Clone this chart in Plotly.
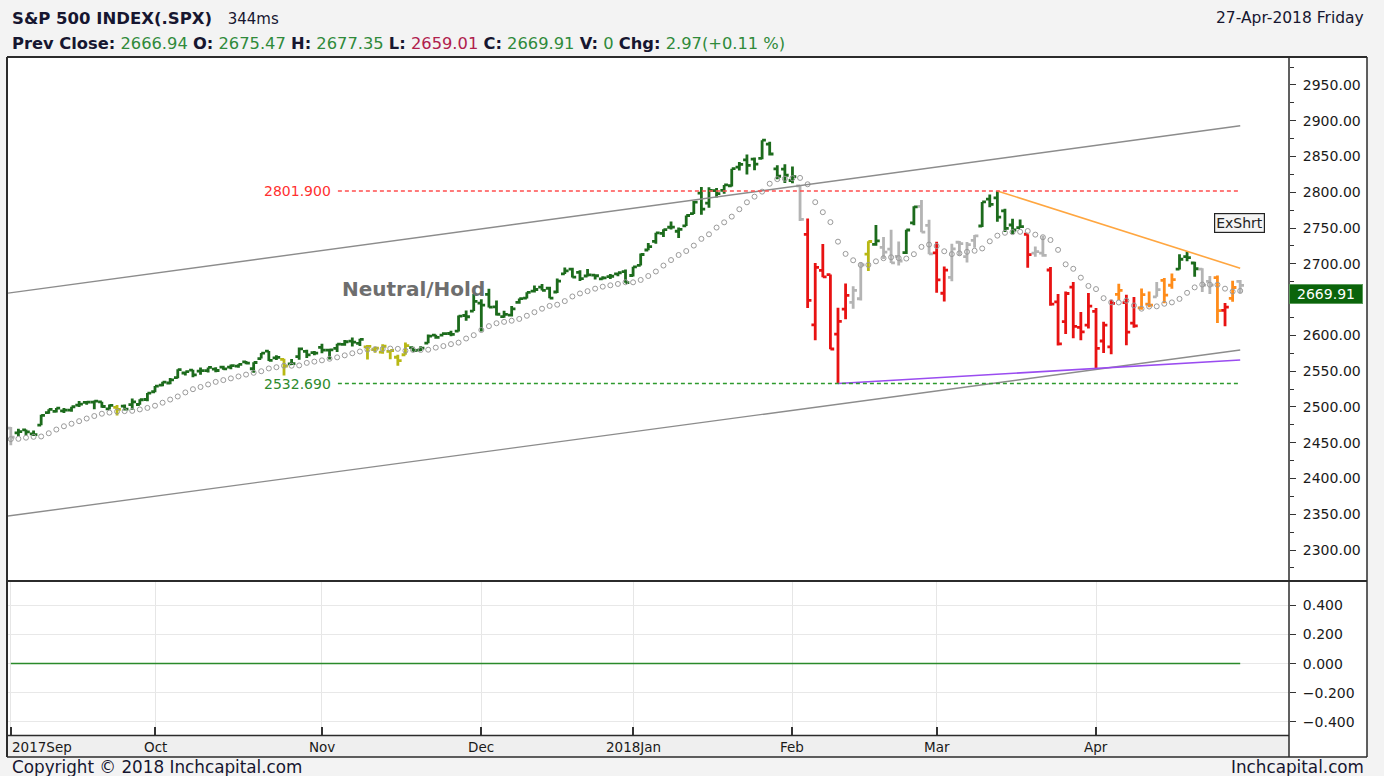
import plotly.graph_objects as go

W, H = 1384, 776

# ---------------- data ----------------
months = ["2017-09", "2017-10", "2017-11", "2017-12", "2018-01", "2018-02", "2018-03", "2018-04"]
month_days = [
    [5, 6, 7, 8, 11, 12, 13, 14, 15, 18, 19, 20, 21, 22, 25, 26, 27, 28, 29],
    [2, 3, 4, 5, 6, 9, 10, 11, 12, 13, 16, 17, 18, 19, 20, 23, 24, 25, 26, 27, 30, 31],
    [1, 2, 3, 6, 7, 8, 9, 10, 13, 14, 15, 16, 17, 20, 21, 22, 24, 27, 28, 29, 30],
    [1, 4, 5, 6, 7, 8, 11, 12, 13, 14, 15, 18, 19, 20, 21, 22, 26, 27, 28, 29],
    [2, 3, 4, 5, 8, 9, 10, 11, 12, 16, 17, 18, 19, 22, 23, 24, 25, 26, 29, 30, 31],
    [1, 2, 5, 6, 7, 8, 9, 12, 13, 14, 15, 16, 20, 21, 22, 23, 26, 27, 28],
    [1, 2, 5, 6, 7, 8, 9, 12, 13, 14, 15, 16, 19, 20, 21, 22, 23, 26, 27, 28, 29],
    [2, 3, 4, 5, 6, 9, 10, 11, 12, 13, 16, 17, 18, 19, 20, 23, 24, 25, 26, 27],
]
month_labels = ["2017Sep", "Oct", "Nov", "Dec", "2018Jan", "Feb", "Mar", "Apr"]

opens = [
    2470.35, 2463.83, 2468.06, 2462.25, 2474.52, 2491.94, 2493.89, 2494.56, 2495.67, 2502.51, 2506.29, 2506.84, 2507.16, 2497.26, 2499.39, 2501.04, 2503.30, 2503.41, 2510.42,
    2521.20, 2530.34, 2533.48, 2540.86, 2547.44, 2551.39, 2549.99, 2550.62, 2552.88, 2555.66, 2555.57, 2557.17, 2562.87, 2553.39, 2567.56, 2578.08, 2568.66, 2566.52, 2560.08, 2570.26, 2577.75, 2575.99,
    2583.21, 2579.46, 2581.93, 2587.47, 2592.11, 2588.71, 2584.00, 2580.18, 2576.53, 2577.75, 2569.45, 2572.95, 2582.94, 2579.49, 2589.17, 2600.31, 2600.42, 2602.66, 2605.94, 2627.82, 2633.93,
    2645.10, 2657.19, 2639.78, 2626.24, 2628.38, 2646.21, 2652.19, 2661.73, 2667.59, 2665.87, 2660.63, 2685.92, 2692.71, 2688.18, 2683.02, 2684.22, 2679.09, 2682.10, 2686.10, 2689.15,
    2683.73, 2697.85, 2719.31, 2731.33, 2742.67, 2751.15, 2745.55, 2752.97, 2770.18, 2798.96, 2784.99, 2802.40, 2802.60, 2809.16, 2835.05, 2845.42, 2846.24, 2847.48, 2867.23, 2832.74, 2832.41,
    2816.45, 2808.92, 2741.06, 2614.78, 2690.95, 2685.01, 2601.78, 2636.75, 2646.27, 2651.21, 2713.46, 2727.14, 2722.99, 2720.53, 2710.42, 2715.80, 2757.37, 2780.45, 2753.78,
    2715.22, 2658.89, 2681.06, 2730.18, 2710.18, 2732.75, 2752.91, 2790.54, 2792.31, 2774.06, 2754.27, 2750.57, 2741.38, 2715.05, 2714.99, 2691.36, 2646.71, 2619.35, 2667.57, 2611.30, 2614.41,
    2633.45, 2592.17, 2584.04, 2657.36, 2645.82, 2617.18, 2638.41, 2643.69, 2653.83, 2676.90, 2670.10, 2692.74, 2710.11, 2701.16, 2692.56, 2675.40, 2680.80, 2634.92, 2651.65, 2675.47,
]
highs = [
    2471.97, 2469.64, 2468.62, 2467.11, 2488.95, 2496.77, 2498.37, 2498.43, 2500.23, 2508.32, 2507.84, 2508.85, 2507.16, 2503.47, 2502.54, 2503.51, 2511.75, 2510.81, 2519.44,
    2529.23, 2535.13, 2540.53, 2552.51, 2549.41, 2551.82, 2555.23, 2555.24, 2555.33, 2557.65, 2559.47, 2559.71, 2564.11, 2562.36, 2575.44, 2578.29, 2572.18, 2567.40, 2567.07, 2582.98, 2580.03, 2578.29,
    2588.40, 2581.11, 2588.42, 2593.38, 2597.02, 2595.47, 2586.50, 2583.81, 2587.66, 2579.66, 2572.84, 2590.09, 2583.96, 2584.64, 2601.19, 2600.94, 2604.21, 2606.41, 2627.69, 2634.89, 2657.74,
    2650.62, 2665.19, 2648.72, 2634.41, 2640.99, 2651.65, 2660.33, 2669.72, 2671.88, 2668.09, 2679.63, 2694.97, 2694.44, 2691.01, 2692.64, 2685.35, 2682.74, 2685.64, 2687.66, 2692.12,
    2695.89, 2714.37, 2729.29, 2743.45, 2748.51, 2759.14, 2750.80, 2767.56, 2787.85, 2807.54, 2807.04, 2805.83, 2810.33, 2833.03, 2842.24, 2852.97, 2848.56, 2872.87, 2870.62, 2837.75, 2839.26,
    2835.96, 2808.92, 2763.39, 2701.04, 2727.67, 2685.27, 2638.67, 2672.61, 2668.84, 2702.10, 2731.51, 2754.42, 2737.60, 2747.75, 2731.26, 2747.76, 2780.64, 2789.15, 2761.52,
    2730.89, 2696.25, 2728.09, 2732.08, 2730.60, 2740.45, 2786.57, 2796.98, 2801.90, 2777.11, 2763.03, 2761.85, 2741.38, 2724.22, 2739.14, 2695.68, 2657.67, 2661.36, 2674.78, 2632.65, 2659.07,
    2638.30, 2619.14, 2649.86, 2672.08, 2656.88, 2653.55, 2665.45, 2661.43, 2674.72, 2680.26, 2686.49, 2713.34, 2717.49, 2702.84, 2693.94, 2682.86, 2683.55, 2645.30, 2676.48, 2677.35,
]
lows = [
    2446.55, 2459.20, 2460.29, 2459.40, 2474.52, 2490.37, 2492.14, 2491.35, 2493.16, 2499.92, 2503.19, 2496.67, 2499.00, 2496.54, 2488.03, 2495.12, 2495.91, 2502.93, 2507.99,
    2520.40, 2528.85, 2531.80, 2540.02, 2543.79, 2541.60, 2544.86, 2547.95, 2548.31, 2552.09, 2552.64, 2554.69, 2559.67, 2547.92, 2567.56, 2564.33, 2565.58, 2544.00, 2559.80, 2565.94, 2568.25, 2572.15,
    2574.92, 2566.17, 2576.77, 2585.66, 2584.35, 2585.02, 2566.33, 2575.57, 2574.48, 2566.56, 2557.45, 2572.95, 2577.62, 2578.24, 2589.17, 2595.23, 2600.42, 2598.87, 2605.44, 2620.32, 2633.93,
    2605.52, 2639.03, 2627.73, 2624.75, 2626.53, 2644.10, 2651.47, 2659.78, 2662.85, 2652.01, 2659.14, 2685.92, 2680.74, 2676.11, 2682.40, 2678.13, 2677.96, 2678.91, 2682.69, 2673.61,
    2682.36, 2697.77, 2719.07, 2727.92, 2737.60, 2747.86, 2736.06, 2752.78, 2769.64, 2768.64, 2778.38, 2792.56, 2798.08, 2808.12, 2830.59, 2824.81, 2830.94, 2846.18, 2851.48, 2818.27, 2813.04,
    2812.70, 2759.97, 2638.17, 2593.07, 2681.33, 2580.56, 2532.69, 2622.45, 2637.08, 2648.87, 2689.82, 2725.11, 2706.76, 2701.29, 2697.77, 2713.74, 2753.78, 2744.22, 2713.54,
    2659.65, 2647.32, 2675.75, 2711.26, 2701.74, 2722.65, 2751.54, 2779.26, 2758.68, 2744.38, 2741.47, 2749.97, 2694.59, 2710.05, 2709.79, 2641.59, 2585.89, 2601.81, 2596.12, 2593.06, 2609.72,
    2553.80, 2575.49, 2573.61, 2649.58, 2586.27, 2610.79, 2635.78, 2639.25, 2653.83, 2645.05, 2665.16, 2692.05, 2703.63, 2681.90, 2660.61, 2657.99, 2617.32, 2612.67, 2647.16, 2659.01,
]
closes = [
    2457.85, 2465.54, 2465.10, 2461.43, 2488.11, 2496.48, 2498.37, 2495.62, 2500.23, 2503.87, 2506.65, 2508.24, 2500.60, 2502.22, 2496.66, 2496.84, 2507.04, 2510.06, 2519.36,
    2529.12, 2534.58, 2537.74, 2552.07, 2549.33, 2544.73, 2550.64, 2555.24, 2550.93, 2553.17, 2557.64, 2559.36, 2561.26, 2562.10, 2575.21, 2564.98, 2569.13, 2557.15, 2560.40, 2581.07, 2572.83, 2575.26,
    2579.36, 2579.85, 2587.84, 2591.13, 2590.64, 2594.38, 2584.62, 2582.30, 2584.84, 2578.87, 2564.62, 2585.64, 2578.85, 2582.14, 2599.03, 2597.08, 2602.42, 2601.42, 2627.04, 2626.07, 2647.58,
    2642.22, 2639.44, 2629.57, 2629.27, 2636.98, 2651.50, 2659.99, 2664.11, 2662.85, 2652.01, 2675.81, 2690.16, 2681.47, 2679.25, 2684.57, 2683.34, 2680.50, 2682.62, 2687.54, 2673.61,
    2695.81, 2713.06, 2723.99, 2743.15, 2747.71, 2751.29, 2748.23, 2767.56, 2786.24, 2776.42, 2802.56, 2798.03, 2810.30, 2832.97, 2839.13, 2837.54, 2839.25, 2872.87, 2853.53, 2822.43, 2823.81,
    2821.98, 2762.13, 2648.94, 2695.14, 2681.66, 2581.00, 2619.55, 2656.00, 2662.94, 2698.63, 2731.20, 2732.22, 2716.26, 2701.33, 2703.96, 2747.30, 2779.60, 2744.28, 2713.83,
    2677.67, 2691.25, 2720.94, 2728.12, 2726.80, 2738.97, 2786.57, 2783.02, 2765.31, 2749.48, 2747.33, 2752.01, 2712.92, 2716.94, 2711.93, 2643.69, 2588.26, 2658.55, 2612.62, 2605.00, 2640.87,
    2581.88, 2614.45, 2644.69, 2662.84, 2604.47, 2613.16, 2656.87, 2642.19, 2663.99, 2656.30, 2677.84, 2706.39, 2708.64, 2693.13, 2670.14, 2670.29, 2634.56, 2639.40, 2666.94, 2669.91,
]
# signal colour of each bar: G green, R red, A grey, Y yellow, O orange
bar_signal = (
    "AGGGGGGGGGGGGGYGGGG"
    "GGGGGGGGGGGGGGGGGYGGGG"
    "GGGGGGYYYYYYGGGGGGGGG"
    "GGGGGGGGGGGGGGGGGGGG"
    "GGGGGGGGGGGGGGGGGGGGG"
    "GARRRRRRAAYGAAAGGAA"
    "RRAAAAGGGGGGRAARRRRRR"
    "RRRORROOAOOGGGAAOROA"
)
# dotted average line (one per bar)
avg_line = [
    2455.0, 2455.4, 2457.0, 2458.2, 2458.7, 2463.2, 2468.4, 2473.0, 2476.5, 2480.1, 2483.8, 2487.3, 2490.5, 2492.1, 2493.6, 2494.1, 2494.5, 2496.5, 2498.6,
    2501.7, 2505.9, 2510.3, 2514.6, 2520.3, 2524.8, 2527.9, 2531.4, 2535.0, 2537.5, 2539.9, 2542.6, 2545.2, 2547.7, 2549.9, 2553.8, 2555.5, 2557.6, 2557.6, 2558.0, 2561.6, 2563.3,
    2565.1, 2567.3, 2569.3, 2572.1, 2575.0, 2577.5, 2580.1, 2580.8, 2581.0, 2581.6, 2581.2, 2578.6, 2579.7, 2579.6, 2580.0, 2582.9, 2585.1, 2587.8, 2589.9, 2595.6, 2600.3,
    2607.5, 2612.9, 2617.0, 2618.9, 2620.5, 2623.0, 2627.4, 2632.4, 2637.3, 2641.2, 2642.9, 2647.9, 2654.4, 2658.6, 2661.8, 2665.3, 2668.1, 2670.0, 2671.9, 2674.3,
    2674.2, 2677.5, 2683.0, 2689.3, 2697.6, 2705.3, 2712.4, 2717.9, 2725.5, 2734.9, 2741.3, 2750.7, 2758.0, 2766.0, 2776.3, 2786.0, 2793.9, 2800.9, 2812.0, 2818.4, 2819.0,
    2819.7, 2820.1, 2811.2, 2786.2, 2772.2, 2758.3, 2731.0, 2713.9, 2705.0, 2698.5, 2698.5, 2703.5, 2707.9, 2709.2, 2708.0, 2707.4, 2713.5, 2723.7, 2726.9,
    2724.9, 2717.6, 2713.6, 2714.7, 2716.8, 2718.3, 2721.5, 2731.5, 2739.4, 2743.4, 2744.3, 2744.8, 2745.9, 2740.8, 2737.2, 2733.3, 2719.5, 2699.3, 2693.1, 2680.7, 2669.1,
    2664.7, 2652.0, 2646.2, 2646.0, 2648.6, 2641.8, 2637.3, 2640.3, 2640.6, 2644.2, 2646.1, 2651.0, 2659.5, 2667.1, 2671.1, 2670.9, 2670.8, 2665.3, 2661.3, 2662.2,
]
# drawn lines: (bar index, price) end points
upper_channel = ([-0.37, 162], [2659.0, 2893.0])
lower_channel = ([-0.37, 162], [2347.5, 2579.6])
resistance_trend = ([130, 162], [2801.9, 2693.9])
support_trend = ([109, 162], [2532.69, 2565.6])
resist_level = 2801.90
support_level = 2532.69
level_start = 43.1
price_ticks = [2300, 2350, 2400, 2450, 2500, 2550, 2600, 2700, 2750, 2800, 2850, 2900, 2950]
indicator_ticks = [-0.4, -0.2, 0.0, 0.2, 0.4]

header_title = "S&P 500 INDEX(.SPX)"
header_ms = "344ms"
quote = [("Prev Close:", "2666.94", "g"), ("O:", "2675.47", "g"), ("H:", "2677.35", "g"),
         ("L:", "2659.01", "r"), ("C:", "2669.91", "g"), ("V:", "0", "g"), ("Chg:", "2.97(+0.11 %)", "g")]
date_text = "27-Apr-2018 Friday"
last_price = 2669.91

# ---------------- derived positions ----------------
dates = [f"{m}-{d:02d}" for m, days in zip(months, month_days) for d in days]
n = len(dates)
xs = list(range(n))
month_start_idx = [i for i in range(n) if i == 0 or dates[i][:7] != dates[i - 1][:7]]


def px(p):
    return p / W


def py(p):
    return 1 - p / H


FONT = "DejaVu Sans"
TXT = "#161630"
XL, XR = 8, 1289
PRICE_TOP, PRICE_BOT = 57, 580
IND_TOP, IND_BOT = 582, 735
X_RANGE = [-0.37, 168.43]

fig = go.Figure()

colors = {"A": "#b4b4b4", "Y": "#b8b814", "O": "#ff8c1a", "R": "#e81212", "G": "#1c6b1c"}
for code, col in colors.items():
    idx = [i for i in xs if bar_signal[i] == code]
    fig.add_trace(go.Ohlc(
        x=idx,
        open=[opens[i] for i in idx], high=[highs[i] for i in idx],
        low=[lows[i] for i in idx], close=[closes[i] for i in idx],
        increasing=dict(line=dict(color=col, width=2.8)),
        decreasing=dict(line=dict(color=col, width=2.8)),
        tickwidth=0.5, hoverinfo="skip", showlegend=False,
        xaxis="x", yaxis="y",
    ))

fig.add_trace(go.Scatter(
    x=xs, y=avg_line, mode="markers",
    marker=dict(symbol="circle-open", size=5, color="#9a9a9a", line=dict(width=1)),
    hoverinfo="skip", showlegend=False, xaxis="x", yaxis="y"))


def line(xy, color, width=1.3, dash=None):
    fig.add_trace(go.Scatter(x=xy[0], y=xy[1], mode="lines",
                             line=dict(color=color, width=width, dash=dash),
                             hoverinfo="skip", showlegend=False, xaxis="x", yaxis="y"))


line(upper_channel, "#8c8c8c", 1.4)
line(lower_channel, "#8c8c8c", 1.4)
line(resistance_trend, "#ffa640", 1.6)
line(support_trend, "#9a4cf0", 1.6)
line(([level_start, n - 1], [resist_level, resist_level]), "#ff4d4d", 1.4, "4px,3px")
line(([level_start, n - 1], [support_level, support_level]), "#2e9a2e", 1.4, "4px,3px")

# indicator pane zero line
fig.add_trace(go.Scatter(x=[0, n - 1], y=[0, 0], mode="lines",
                         line=dict(color="#2a8a2a", width=1.5),
                         hoverinfo="skip", showlegend=False, xaxis="x2", yaxis="y2"))

axis_font = dict(family=FONT, size=14, color="#1a1a1a")
fig.update_layout(
    width=W, height=H, margin=dict(l=0, r=0, t=0, b=0),
    paper_bgcolor="#f3f3f3", plot_bgcolor="#ffffff",
    hovermode=False, showlegend=False,
    xaxis=dict(domain=[px(XL), px(XR)], range=X_RANGE, anchor="y",
               showticklabels=False, showgrid=False, zeroline=False, showline=False,
               ticks="", rangeslider=dict(visible=False), fixedrange=True),
    yaxis=dict(domain=[py(PRICE_BOT), py(PRICE_TOP)], range=[2258.1, 2989.1], anchor="x",
               side="right", showgrid=False, zeroline=False, showline=False,
               tickmode="array", tickvals=price_ticks,
               ticks="outside", ticklen=6, tickwidth=1.2, tickcolor="#333",
               tickformat=".2f", tickfont=axis_font, ticklabelstandoff=4,
               minor=dict(ticks="outside", ticklen=4, dtick=25, tick0=2275, tickcolor="#333", showgrid=False)),
    xaxis2=dict(domain=[px(XL), px(XR)], range=X_RANGE, anchor="y2",
                tickmode="array", tickvals=month_start_idx, showticklabels=False,
                ticks="inside", ticklen=8, tickwidth=1.5, tickcolor="#333",
                showgrid=True, gridcolor="#e6e6e6", gridwidth=1, zeroline=False, showline=False,
                rangeslider=dict(visible=False)),
    yaxis2=dict(domain=[py(IND_BOT), py(IND_TOP)], range=[-0.49, 0.56], anchor="x2",
                side="right", tickmode="array", tickvals=indicator_ticks,
                tickformat=".3f", ticks="outside", ticklen=6, tickwidth=1.2, tickcolor="#333",
                tickfont=axis_font, ticklabelstandoff=4,
                showgrid=True, gridcolor="#e8e8e8", zeroline=False, showline=False),
)

shapes = []
shapes.append(dict(type="rect", xref="paper", yref="paper", x0=px(7), x1=px(1367), y0=py(757), y1=py(57),
                   fillcolor="#ffffff", line=dict(width=0), layer="below"))
shapes.append(dict(type="rect", xref="paper", yref="paper", x0=px(7), x1=px(XR), y0=py(757), y1=py(IND_BOT),
                   fillcolor="#efefef", line=dict(width=0), layer="below"))
frame = "#2b2b2b"


def hline(y, x0, x1, w=1.5):
    shapes.append(dict(type="line", xref="paper", yref="paper", x0=px(x0), x1=px(x1), y0=py(y), y1=py(y),
                       line=dict(color=frame, width=w)))


def vline(x, y0, y1, w=1.5):
    shapes.append(dict(type="line", xref="paper", yref="paper", x0=px(x), x1=px(x), y0=py(y0), y1=py(y1),
                       line=dict(color=frame, width=w)))


hline(57, 7, 1367, 2)
hline(757, 7, 1367, 1.5)
hline(581, 7, 1367, 2)
hline(IND_BOT + 0.5, 7, XR, 1.5)
vline(7, 57, 757, 2)
vline(1367, 57, 757, 1.5)
vline(XR, 57, 757, 1.5)
fig.update_layout(shapes=shapes)

ann = []
# header
ann.append(dict(xref="paper", yref="paper", x=px(10), y=py(18), xanchor="left", yanchor="middle",
                text=f"<b>{header_title}</b>&nbsp;&nbsp;&nbsp;<span style='font-size:15px'>{header_ms}</span>",
                showarrow=False, font=dict(family=FONT, size=16.5, color=TXT)))
parts = []
for lab, val, c in quote:
    col = "#2f8a3a" if c == "g" else "#b0204c"
    parts.append(f"<b>{lab}</b> <span style='color:{col}'>{val}</span>")
ann.append(dict(xref="paper", yref="paper", x=px(10), y=py(43), xanchor="left", yanchor="middle",
                text=" ".join(parts), showarrow=False, font=dict(family=FONT, size=16.3, color=TXT)))
ann.append(dict(xref="paper", yref="paper", x=px(1366), y=py(18), xanchor="right", yanchor="middle",
                text=date_text, showarrow=False, font=dict(family=FONT, size=15.5, color=TXT)))
# footer
ann.append(dict(xref="paper", yref="paper", x=px(10), y=py(767), xanchor="left", yanchor="middle",
                text="Copyright © 2018 Inchcapital.com", showarrow=False,
                font=dict(family=FONT, size=16.8, color=TXT)))
ann.append(dict(xref="paper", yref="paper", x=px(1366), y=py(767), xanchor="right", yanchor="middle",
                text="Inchcapital.com", showarrow=False, font=dict(family=FONT, size=16.8, color=TXT)))
# month labels
for i, (mi, lab) in enumerate(zip(month_start_idx, month_labels)):
    if i == 0:
        ann.append(dict(xref="paper", yref="paper", x=px(10), y=py(747), xanchor="left", yanchor="middle",
                        text=lab, showarrow=False, font=dict(family=FONT, size=13.5, color="#1a1a1a")))
    else:
        ann.append(dict(xref="x2", yref="paper", x=mi, y=py(747), xanchor="center", yanchor="middle",
                        text=lab, showarrow=False, font=dict(family=FONT, size=13.5, color="#1a1a1a")))
# level labels
ann.append(dict(xref="x", yref="y", x=level_start - 0.6, y=resist_level, xanchor="right", yanchor="middle",
                text=f"{resist_level:.3f}", showarrow=False, font=dict(family=FONT, size=14, color="#ff3030")))
ann.append(dict(xref="x", yref="y", x=level_start - 0.6, y=support_level, xanchor="right", yanchor="middle",
                text=f"{support_level:.3f}", showarrow=False, font=dict(family=FONT, size=14, color="#2e8b2e")))
ann.append(dict(xref="paper", yref="paper", x=px(413), y=py(289), xanchor="center", yanchor="middle",
                text="<b>Neutral/Hold</b>", showarrow=False, font=dict(family=FONT, size=20, color="#6e6e6e")))
ann.append(dict(xref="paper", yref="paper", x=px(1239), y=py(223), xanchor="center", yanchor="middle",
                text="ExShrt", showarrow=False, bgcolor="#f4f4f4", bordercolor="#222", borderwidth=1.2,
                borderpad=1, font=dict(family=FONT, size=14, color="#222")))
ann.append(dict(xref="paper", yref="paper", x=px(1326), y=py(294), xanchor="center", yanchor="middle",
                text=f"{last_price:.2f}", showarrow=False, bgcolor="#0b640b", bordercolor="#5a9a5a",
                borderwidth=1, borderpad=1, width=70,
                font=dict(family=FONT, size=14, color="#ffffff")))
fig.update_layout(annotations=ann)

fig.write_html("out.html")
